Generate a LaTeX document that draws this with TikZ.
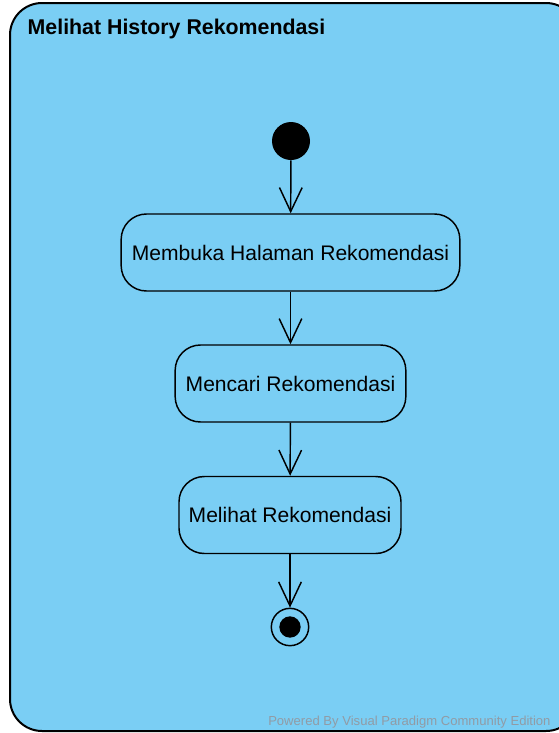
\documentclass[tikz,border=0pt]{standalone}
\usepackage{fontspec}
\setmainfont{Liberation Sans}
\usetikzlibrary{arrows.meta}
\definecolor{activityblue}{RGB}{122,206,244}
\definecolor{markgray}{RGB}{145,155,165}
\begin{document}
\begin{tikzpicture}[x=0.75pt,y=-0.75pt,
	action/.style={draw,line width=1.1pt,rounded corners=19pt,fill=activityblue,
		minimum height=57.75pt,inner sep=0pt,font=\fontsize{15.8}{18}\selectfont},
	flow/.style={line width=1.1pt,-{Straight Barb[length=18pt,width=17pt,line width=1.1pt]}}]
	\useasboundingbox (0,0) rectangle (558,733);
	% activity frame
	\draw[line width=1.5pt,fill=activityblue,rounded corners=24pt](10,3) rectangle (578,731);
	\node[anchor=west,font=\fontsize{16}{18}\selectfont\bfseries] (title) at (23,29) {Melihat History Rekomendasi};
	
	% start and actions
	\node[circle,fill=black,minimum size=28.5pt,inner sep=0pt] (start) at (291,141) {};
	\node[action,minimum width=254pt] (open) at (290.5,252.5) {Membuka Halaman Rekomendasi};
	\node[action,minimum width=173pt] (search) at (290.5,383.5) {Mencari Rekomendasi};
	\node[action,minimum width=166.5pt] (view) at (290,515) {Melihat Rekomendasi};
	\node[circle,draw,line width=1.1pt,minimum size=28pt,inner sep=0pt] (end) at (290,627) {};
	\node[circle,fill=black,minimum size=16pt,inner sep=0pt] (enddot) at (end) {};
	
	% flows
	\draw[flow] (start) -- (open);
	\draw[flow] (open) -- (search);
	\draw[flow] (search) -- (view);
	\draw[flow] (view) -- (end);
	
	\node[anchor=west,text=markgray,inner sep=0pt,font=\fontsize{9.8}{11}\selectfont] (mark) at (268,722) {Powered By Visual Paradigm Community Edition};
\end{tikzpicture}
\end{document}
